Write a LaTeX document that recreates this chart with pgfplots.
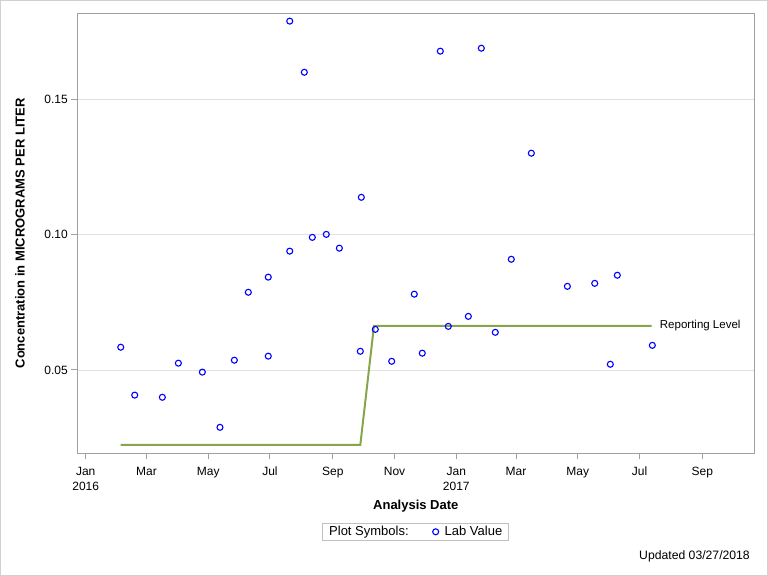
\documentclass[border=0pt]{standalone}
\usepackage{fontspec}
\setmainfont{Liberation Sans}
\usepackage{pgfplots}
\pgfplotsset{compat=1.18}
\definecolor{reflevel}{RGB}{134,165,77}
\definecolor{axgray}{RGB}{160,160,160}
\definecolor{gridgray}{RGB}{225,225,225}
\definecolor{framegray}{RGB}{208,208,208}
\definecolor{leggray}{RGB}{192,192,192}
\begin{document}
\begin{tikzpicture}[x=1bp,y=1bp]
\useasboundingbox (-77.3,-122.7) rectangle (690.7,453.3);
\draw[framegray, line width=1bp] (-76.8,-122.2) rectangle (690.2,452.8);
\begin{axis}[
  at={(0,0)}, anchor=south west, scale only axis,
  width=677bp, height=440bp,
  xmin=-8.3, xmax=660.3, ymin=0.0192, ymax=0.1818,
  axis line style={axgray, line width=1bp},
  xtick={0,60,121,182,244,305,366,425,486,547,609},
  xticklabels={{\strut Jan\\2016},\strut Mar,\strut May,\strut Jul,\strut Sep,\strut Nov,{\strut Jan\\2017},\strut Mar,\strut May,\strut Jul,\strut Sep},
  xticklabel style={align=center, font=\fontsize{12bp}{15bp}\selectfont, yshift=-2.5bp},
  ytick={0.05,0.10,0.15}, yticklabels={0.05,0.10,0.15},
  yticklabel style={font=\fontsize{12bp}{14bp}\selectfont},
  ymajorgrids, major grid style={gridgray, line width=0.8bp},
  tick align=outside, major tick length=6bp, tick style={axgray, line width=1bp},
  xtick pos=bottom, ytick pos=left,
  xlabel={Analysis Date}, ylabel={Concentration in MICROGRAMS PER LITER},
  label style={font=\fontsize{13bp}{15bp}\selectfont\bfseries},
  xlabel style={at={(axis description cs:0.5,-0.1198)}, anchor=center},
  ylabel style={at={(axis description cs:-0.0846,0.5)}, anchor=center},
  legend columns=2,
  legend style={at={(0.4999,-0.1784)}, anchor=center, draw=leggray, line width=0.8bp,
    font=\fontsize{13bp}{14bp}\selectfont, inner xsep=4.5bp, inner ysep=1.2bp,
    /tikz/column 2/.style={column sep=22bp},
    /tikz/column 3/.style={column sep=4bp}},
]
\addlegendimage{empty legend}
\addlegendentry{Plot Symbols:}
\addplot[reflevel, line width=2bp, forget plot] coordinates {
  (34.6,0.0223) (271.2,0.0223) (284.7,0.0663) (559.0,0.0663)};
\addplot[only marks, mark=o, mark size=3bp, blue, mark options={line width=1.1bp}] table {
x y
34.6 0.0584
48.4 0.0407
75.7 0.0399
91.5 0.0525
115.2 0.0492
132.6 0.0288
146.8 0.0536
160.6 0.0787
180.3 0.0551
180.3 0.0843
201.5 0.0939
201.5 0.1789
215.9 0.1600
223.8 0.0990
237.6 0.1001
250.5 0.0950
271.2 0.0569
272.2 0.1138
286.0 0.0650
302.2 0.0532
324.5 0.0780
332.4 0.0562
350.2 0.1678
358.1 0.0661
377.9 0.0698
390.7 0.1689
404.5 0.0639
420.3 0.0909
440.1 0.1301
475.7 0.0809
502.7 0.0820
518.1 0.0521
525.0 0.0850
559.6 0.0591
};
\addlegendentry{Lab Value}
\node[anchor=west, inner sep=0pt, xshift=8bp, font=\fontsize{11.5bp}{13bp}\selectfont] at (axis cs:559.0,0.0663) {Reporting Level};
\end{axis}
\node[anchor=east, inner sep=0pt, font=\fontsize{12.2bp}{14bp}\selectfont] at (672.7,-102.7) {Updated 03/27/2018};
\end{tikzpicture}
\end{document}
